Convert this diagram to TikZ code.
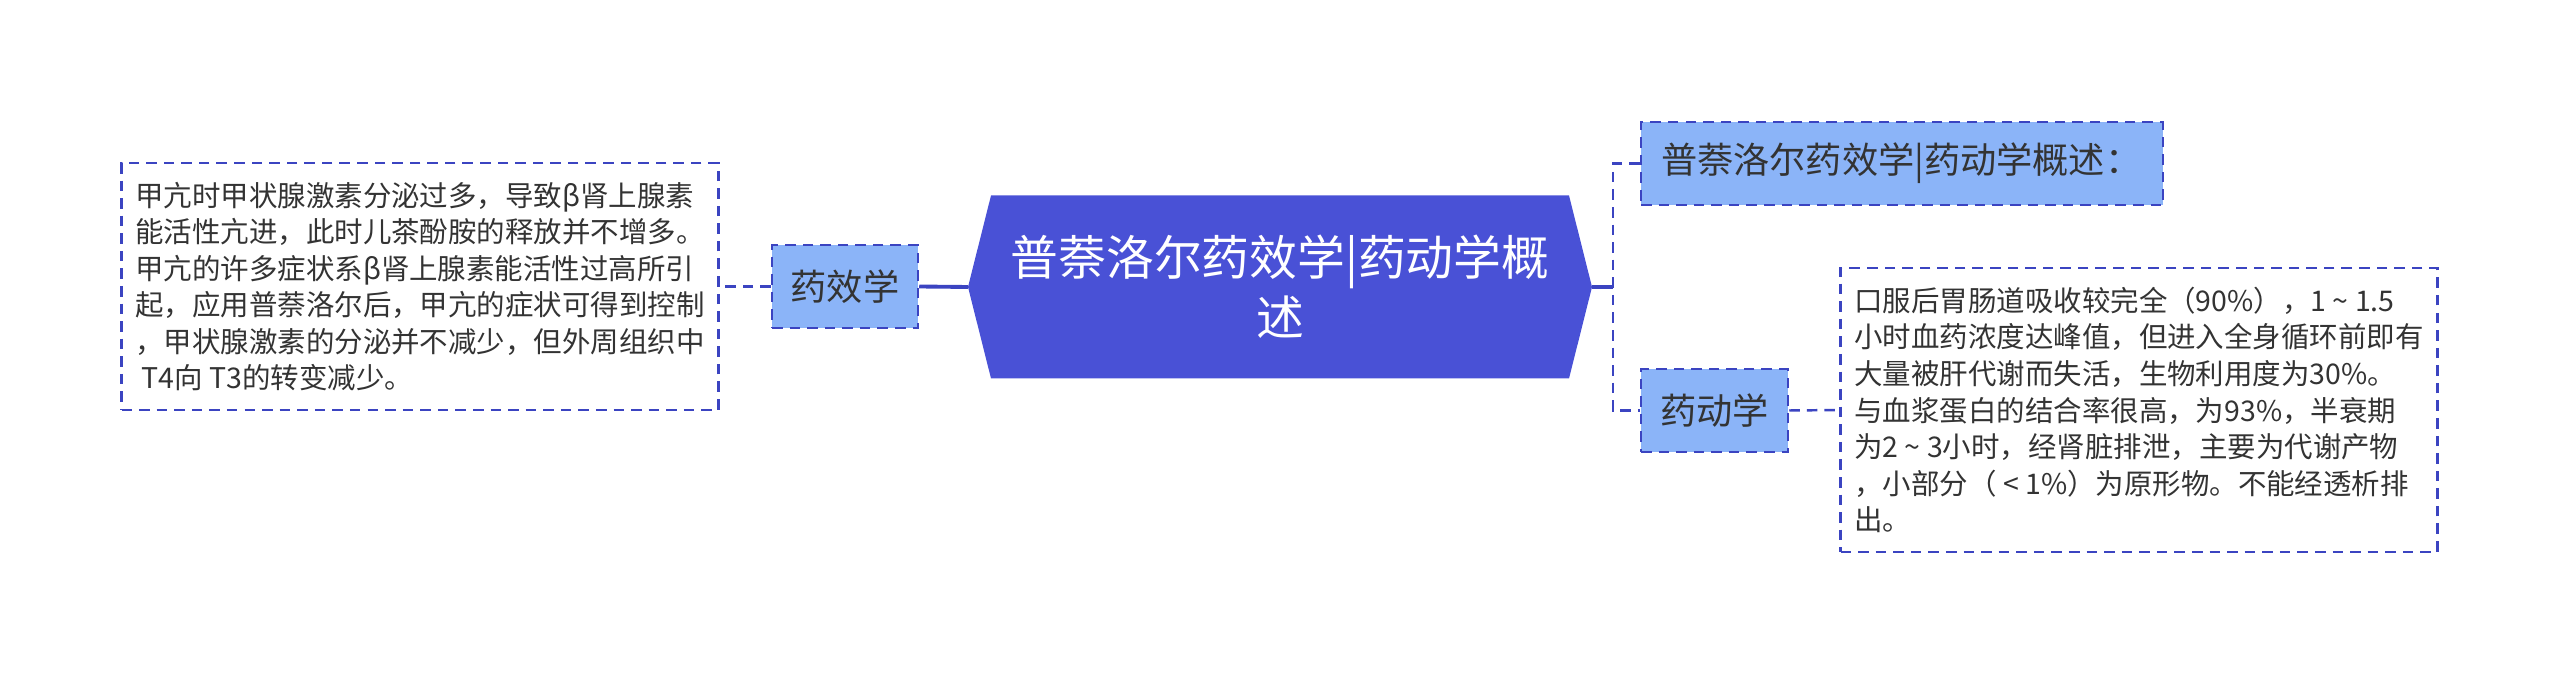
\documentclass[tikz,border=0pt]{standalone}
\usepackage{fontspec}
\newfontfamily\cjk{Noto Sans CJK SC}
\usetikzlibrary{calc}
\definecolor{HubClr}{rgb}{0.286,0.318,0.839}
\definecolor{TopicClr}{rgb}{0.545,0.706,0.973}
\definecolor{LineClr}{rgb}{0.231,0.267,0.757}
\definecolor{TextClr}{rgb}{0.2,0.2,0.2}

\begin{document}
\begin{tikzpicture}[
  topic/.style={draw=LineClr,fill=TopicClr,line width=0.7pt,dash pattern=on 3pt off 2pt,
    text=TextClr,font=\cjk\fontsize{10.3}{12}\selectfont,inner sep=0pt,minimum height=0.83cm},
  leaf/.style={draw=LineClr,line width=0.6pt,dash pattern=on 3pt off 2pt,
    text=TextClr,font=\cjk\fontsize{8.1}{10.4}\selectfont,align=left,inner sep=0pt,minimum width=5.97cm},
  link/.style={draw=LineClr,line width=0.7pt,dash pattern=on 3pt off 2pt},
  stem/.style={draw=LineClr,line width=1.1pt}]

\useasboundingbox (0,0) rectangle (25.6,6.75);

% hub
\coordinate (hub) at (12.80,3.88);
\coordinate (hubW) at ($(hub)+(-3.12,0)$);
\coordinate (hubE) at ($(hub)+(3.12,0)$);
\fill[HubClr] (hubW) -- ++(0.23,0.915) -- ($(hubE)+(-0.23,0.915)$) -- (hubE)
  -- ++(-0.23,-0.915) -- ($(hubW)+(0.23,-0.915)$) -- cycle;
\node[text=white,font=\cjk\fontsize{13.6}{17}\selectfont,align=center] (title) at (hub)
  {普萘洛尔药效学|药动学概\\述};

% left branch
\node[topic,minimum width=1.46cm] (effect) at (8.45,3.885) {药效学};
\node[leaf,minimum height=2.47cm] (effectTxt) at (4.20,3.885)
  {甲亢时甲状腺激素分泌过多，导致β肾上腺素\\
   能活性亢进，此时儿茶酚胺的释放并不增多。\\
   甲亢的许多症状系β肾上腺素能活性过高所引\\
   起，应用普萘洛尔后，甲亢的症状可得到控制\\
   ，甲状腺激素的分泌并不减少，但外周组织中\\
   \ T4向 T3的转变减少。};

% right branch
\node[topic,text width=4.82cm,align=left,inner xsep=0.2cm] (summary) at (19.02,5.115)
  {普萘洛尔药效学|药动学概述：};
\node[topic,minimum width=1.47cm] (dynamics) at (17.145,2.645) {药动学};
\node[leaf,minimum height=2.84cm] (dynamicsTxt) at (21.39,2.65)
  {口服后胃肠道吸收较完全（90\%），1 \textasciitilde{} 1.5\\
   小时血药浓度达峰值，但进入全身循环前即有\\
   大量被肝代谢而失活，生物利用度为30\%。\\
   与血浆蛋白的结合率很高，为93\%，半衰期\\
   为2 \textasciitilde{} 3小时，经肾脏排泄，主要为代谢产物\\
   ，小部分（ < 1\%）为原形物。不能经透析排\\
   出。};

\coordinate (fork) at (16.13,3.88);

\draw[stem] (hubW) -- (effect.east);
\draw[link] (effect.west) -- (effectTxt.east);
\draw[stem] (hubE) -- (fork);
\draw[link] (summary.west) -| (fork) |- (dynamics.west);
\draw[link] (dynamics.east) -- (dynamicsTxt.west);

\end{tikzpicture}
\end{document}
